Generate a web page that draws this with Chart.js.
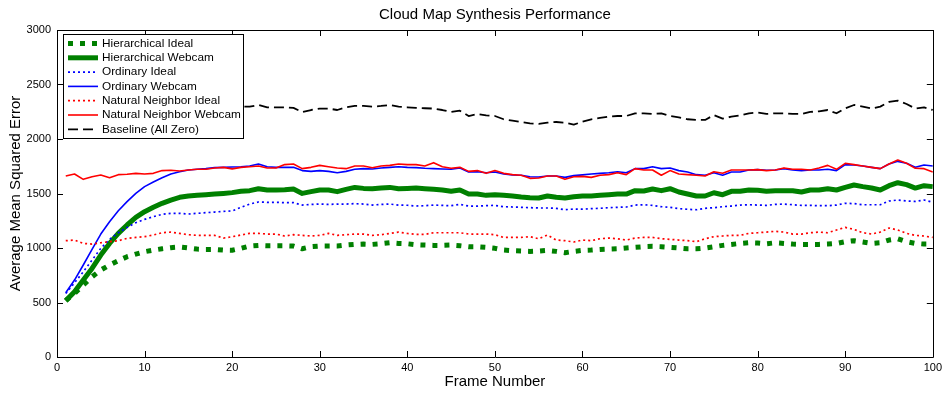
<!DOCTYPE html>
<html>
<head>
<meta charset="utf-8">
<title>Cloud Map Synthesis Performance</title>
<script src="https://cdn.jsdelivr.net/npm/chart.js@4.4.1/dist/chart.umd.min.js"></script>
<style>
  html, body { margin: 0; padding: 0; background: #fff; }
  #wrap { width: 946px; height: 395px; position: relative; }
</style>
</head>
<body>
<div id="wrap"><canvas id="perfChart"></canvas></div>
<script>
// x categories: frame numbers
const frames = Array.from({ length: 100 }, (_, i) => i + 1);
const xTicks = [0, 10, 20, 30, 40, 50, 60, 70, 80, 90, 100];
const yTicks = [0, 500, 1000, 1500, 2000, 2500, 3000];
const chartTitle = 'Cloud Map Synthesis Performance';

const hierIdeal = [
  518, 583, 660, 736, 798, 844, 883, 920, 944, 966, 981, 993, 1003, 1009, 1000, 990, 987, 987, 981, 980,
  997, 1018, 1024, 1021, 1021, 1021, 1018, 993, 1012, 1018, 1018, 1018, 1027, 1033, 1036, 1033, 1039, 1048, 1042, 1039,
  1030, 1027, 1024, 1024, 1027, 1021, 1012, 1012, 1006, 997, 981, 975, 972, 969, 972, 978, 969, 957, 969, 978,
  981, 987, 990, 993, 1000, 1006, 1012, 1015, 1012, 1006, 1000, 993, 993, 1000, 1012, 1024, 1033, 1042, 1048, 1046,
  1039, 1048, 1042, 1036, 1033, 1033, 1033, 1036, 1042, 1058, 1067, 1055, 1042, 1048, 1073, 1085, 1058, 1042, 1036, 1036
];
const hierWebcam = [
  516, 599, 706, 813, 935, 1042, 1134, 1211, 1281, 1333, 1373, 1410, 1440, 1465, 1477, 1483, 1489, 1495, 1501, 1508,
  1520, 1526, 1544, 1532, 1532, 1535, 1541, 1501, 1517, 1532, 1532, 1517, 1538, 1556, 1547, 1544, 1550, 1556, 1544, 1547,
  1550, 1544, 1538, 1532, 1520, 1532, 1495, 1495, 1483, 1489, 1483, 1477, 1468, 1462, 1459, 1477, 1465, 1459, 1471, 1477,
  1477, 1483, 1489, 1495, 1495, 1526, 1523, 1541, 1526, 1544, 1514, 1495, 1477, 1477, 1507, 1489, 1520, 1520, 1532, 1529,
  1520, 1526, 1526, 1526, 1514, 1532, 1532, 1544, 1532, 1556, 1578, 1563, 1550, 1532, 1572, 1599, 1581, 1550, 1572, 1563
];
const ordIdeal = [
  583, 681, 782, 889, 997, 1079, 1140, 1189, 1232, 1263, 1287, 1309, 1318, 1318, 1312, 1318, 1324, 1330, 1336, 1340,
  1373, 1403, 1422, 1419, 1419, 1416, 1416, 1394, 1400, 1403, 1400, 1403, 1403, 1407, 1403, 1394, 1400, 1403, 1394, 1392,
  1385, 1388, 1394, 1391, 1388, 1400, 1385, 1385, 1388, 1391, 1379, 1376, 1373, 1370, 1367, 1367, 1364, 1351, 1358, 1356,
  1361, 1364, 1370, 1373, 1376, 1394, 1397, 1391, 1379, 1373, 1361, 1355, 1351, 1364, 1370, 1379, 1385, 1394, 1397, 1394,
  1391, 1400, 1403, 1397, 1391, 1391, 1388, 1388, 1394, 1410, 1407, 1397, 1397, 1397, 1431, 1440, 1431, 1428, 1440, 1419
];
const ordWebcam = [
  590, 706, 844, 987, 1128, 1241, 1342, 1425, 1501, 1563, 1605, 1645, 1679, 1700, 1716, 1722, 1728, 1737, 1740, 1743,
  1746, 1752, 1771, 1746, 1740, 1740, 1740, 1710, 1703, 1710, 1703, 1691, 1703, 1722, 1728, 1725, 1734, 1740, 1746, 1740,
  1737, 1731, 1728, 1725, 1722, 1734, 1697, 1700, 1691, 1697, 1679, 1670, 1667, 1654, 1651, 1661, 1661, 1648, 1664, 1671,
  1679, 1685, 1691, 1700, 1691, 1728, 1728, 1746, 1728, 1734, 1710, 1697, 1673, 1667, 1691, 1667, 1697, 1697, 1716, 1719,
  1713, 1716, 1728, 1716, 1710, 1716, 1716, 1722, 1710, 1765, 1762, 1752, 1740, 1728, 1771, 1795, 1777, 1740, 1762, 1752
];
const nnIdeal = [
  1067, 1073, 1042, 1036, 1048, 1058, 1067, 1088, 1097, 1104, 1119, 1140, 1146, 1134, 1122, 1116, 1116, 1116, 1091, 1104,
  1119, 1134, 1134, 1128, 1128, 1110, 1122, 1116, 1110, 1116, 1134, 1116, 1122, 1128, 1128, 1116, 1122, 1134, 1146, 1134,
  1125, 1125, 1140, 1140, 1140, 1140, 1128, 1128, 1128, 1122, 1097, 1097, 1097, 1104, 1085, 1119, 1073, 1067, 1055, 1073,
  1067, 1085, 1091, 1085, 1073, 1091, 1097, 1097, 1085, 1079, 1073, 1067, 1058, 1085, 1104, 1110, 1116, 1116, 1134, 1140,
  1146, 1153, 1146, 1128, 1128, 1140, 1146, 1140, 1165, 1189, 1171, 1140, 1128, 1146, 1183, 1165, 1134, 1116, 1110, 1097
];
const nnWebcam = [
  1661, 1679, 1630, 1654, 1670, 1645, 1673, 1676, 1685, 1679, 1685, 1710, 1713, 1706, 1716, 1722, 1722, 1734, 1740, 1726,
  1740, 1746, 1752, 1734, 1734, 1765, 1771, 1728, 1740, 1758, 1746, 1734, 1728, 1752, 1752, 1737, 1752, 1758, 1771, 1765,
  1765, 1752, 1783, 1746, 1731, 1740, 1703, 1710, 1685, 1710, 1685, 1673, 1667, 1639, 1642, 1661, 1661, 1630, 1654, 1657,
  1648, 1667, 1673, 1691, 1673, 1728, 1716, 1716, 1667, 1710, 1679, 1673, 1667, 1661, 1700, 1685, 1716, 1716, 1716, 1719,
  1710, 1716, 1734, 1722, 1722, 1716, 1734, 1758, 1722, 1777, 1765, 1752, 1740, 1728, 1771, 1807, 1777, 1731, 1728, 1697
];
const baseline = [
  2290, 2300, 2285, 2295, 2280, 2290, 2300, 2285, 2290, 2295, 2280, 2290, 2300, 2290, 2285, 2295, 2290, 2280, 2290, 2295,
  2297, 2297, 2312, 2291, 2291, 2291, 2285, 2248, 2266, 2279, 2279, 2266, 2291, 2303, 2303, 2297, 2303, 2312, 2297, 2291,
  2285, 2282, 2279, 2266, 2248, 2260, 2211, 2230, 2217, 2211, 2181, 2168, 2156, 2144, 2138, 2150, 2156, 2150, 2131, 2159,
  2181, 2193, 2205, 2211, 2211, 2236, 2236, 2230, 2236, 2211, 2199, 2181, 2175, 2175, 2220, 2187, 2205, 2217, 2236, 2242,
  2230, 2236, 2236, 2230, 2230, 2248, 2254, 2266, 2236, 2282, 2312, 2297, 2279, 2297, 2340, 2352, 2321, 2279, 2291, 2266
];

const FONT = "'Liberation Sans', Arial, Helvetica, sans-serif";

function series(label, values, color, width, dash) {
  return {
    label: label,
    data: frames.map((f, i) => ({ x: f, y: values[i] })),
    borderColor: color,
    backgroundColor: color,
    borderWidth: width,
    borderDash: dash,
    borderCapStyle: 'butt',
    borderJoinStyle: 'round',
    pointRadius: 0,
    tension: 0,
    fill: false
  };
}

const datasets = [
  series('Hierarchical Ideal', hierIdeal, '#008000', 5, [5, 7]),
  series('Hierarchical Webcam', hierWebcam, '#008000', 5, []),
  series('Ordinary Ideal', ordIdeal, '#0000ff', 1.7, [2, 3]),
  series('Ordinary Webcam', ordWebcam, '#0000ff', 1.6, []),
  series('Natural Neighbor Ideal', nnIdeal, '#ff0000', 1.7, [2, 3]),
  series('Natural Neighbor Webcam', nnWebcam, '#ff0000', 1.6, []),
  series('Baseline (All Zero)', baseline, '#000000', 1.8, [10, 5])
];
// later series drawn on top, like the original plot order
datasets.forEach((d, i) => { d.order = datasets.length - i; });

// title centred over the axes, box around the axes and inward tick marks
const axesBox = {
  id: 'axesBox',
  afterDatasetsDraw(chart) {
    const { ctx, chartArea: a, scales: { x, y } } = chart;
    ctx.save();
    ctx.strokeStyle = '#000';
    ctx.lineWidth = 1;
    ctx.setLineDash([]);
    ctx.beginPath();
    ctx.rect(Math.round(a.left) + 0.5, Math.round(a.top) + 0.5,
      Math.round(a.right - a.left), Math.round(a.bottom - a.top));
    xTicks.forEach(v => {
      const px = Math.round(x.getPixelForValue(v)) + 0.5;
      ctx.moveTo(px, a.bottom); ctx.lineTo(px, a.bottom - 6);
      ctx.moveTo(px, a.top); ctx.lineTo(px, a.top + 6);
    });
    yTicks.forEach(v => {
      const py = Math.round(y.getPixelForValue(v)) + 0.5;
      ctx.moveTo(a.left, py); ctx.lineTo(a.left + 6, py);
      ctx.moveTo(a.right, py); ctx.lineTo(a.right - 6, py);
    });
    ctx.stroke();

    ctx.fillStyle = '#000';
    ctx.font = '15px ' + FONT;
    ctx.textAlign = 'center';
    ctx.textBaseline = 'middle';
    ctx.fillText(chartTitle, (a.left + a.right) / 2, 15);
    ctx.restore();
  }
};

// legend box drawn inside the plot, top left
const boxLegend = {
  id: 'boxLegend',
  afterDraw(chart) {
    const ctx = chart.ctx;
    const a = chart.chartArea;
    const left = a.left + 6, top = a.top + 4, w = 180, h = 104, rowH = 14.3;
    ctx.save();
    ctx.fillStyle = '#fff';
    ctx.fillRect(left, top, w, h);
    ctx.strokeStyle = '#000';
    ctx.lineWidth = 1;
    ctx.setLineDash([]);
    ctx.strokeRect(left + 0.5, top + 0.5, w, h);
    ctx.font = '11.8px ' + FONT;
    ctx.textBaseline = 'middle';
    ctx.textAlign = 'left';
    chart.data.datasets.forEach((d, i) => {
      const cy = top + 9.5 + i * rowH;
      ctx.beginPath();
      ctx.strokeStyle = d.borderColor;
      ctx.lineWidth = d.borderWidth;
      ctx.lineCap = 'butt';
      ctx.setLineDash(d.borderDash);
      ctx.moveTo(left + 5, cy);
      ctx.lineTo(left + 35, cy);
      ctx.stroke();
      ctx.setLineDash([]);
      ctx.fillStyle = '#000';
      ctx.fillText(d.label, left + 39, cy);
    });
    ctx.restore();
  }
};

const ctx = document.getElementById('perfChart').getContext('2d');
const perfChart = new Chart(ctx, {
  type: 'line',
  data: { datasets: datasets },
  options: {
    responsive: true,
    maintainAspectRatio: false,
    animation: false,
    layout: { padding: { left: 0, right: 11, top: 30, bottom: 0 } },
    plugins: {
      legend: { display: false },
      tooltip: { enabled: false },
      title: { display: false }
    },
    scales: {
      x: {
        type: 'linear',
        min: 0,
        max: 100,
        grid: { display: false, drawTicks: false },
        border: { display: false },
        ticks: {
          stepSize: 10,
          maxRotation: 0,
          autoSkip: false,
          padding: 4,
          color: '#000',
          font: { family: FONT, size: 11 },
          callback: v => String(v)
        },
        title: {
          display: true,
          text: 'Frame Number',
          color: '#000',
          font: { family: FONT, size: 15 },
          padding: { top: 0, bottom: 4 }
        },
        afterFit(scale) { scale.height = 38; }
      },
      y: {
        min: 0,
        max: 3000,
        grid: { display: false, drawTicks: false },
        border: { display: false },
        ticks: {
          stepSize: 500,
          padding: 6,
          color: '#000',
          font: { family: FONT, size: 11 },
          callback: v => String(v)
        },
        title: {
          display: true,
          text: 'Average Mean Squared Error',
          color: '#000',
          font: { family: FONT, size: 15 },
          padding: { top: 7, bottom: 0 }
        },
        afterFit(scale) { scale.width = 57; }
      }
    }
  },
  plugins: [axesBox, boxLegend]
});
</script>
</body>
</html>
